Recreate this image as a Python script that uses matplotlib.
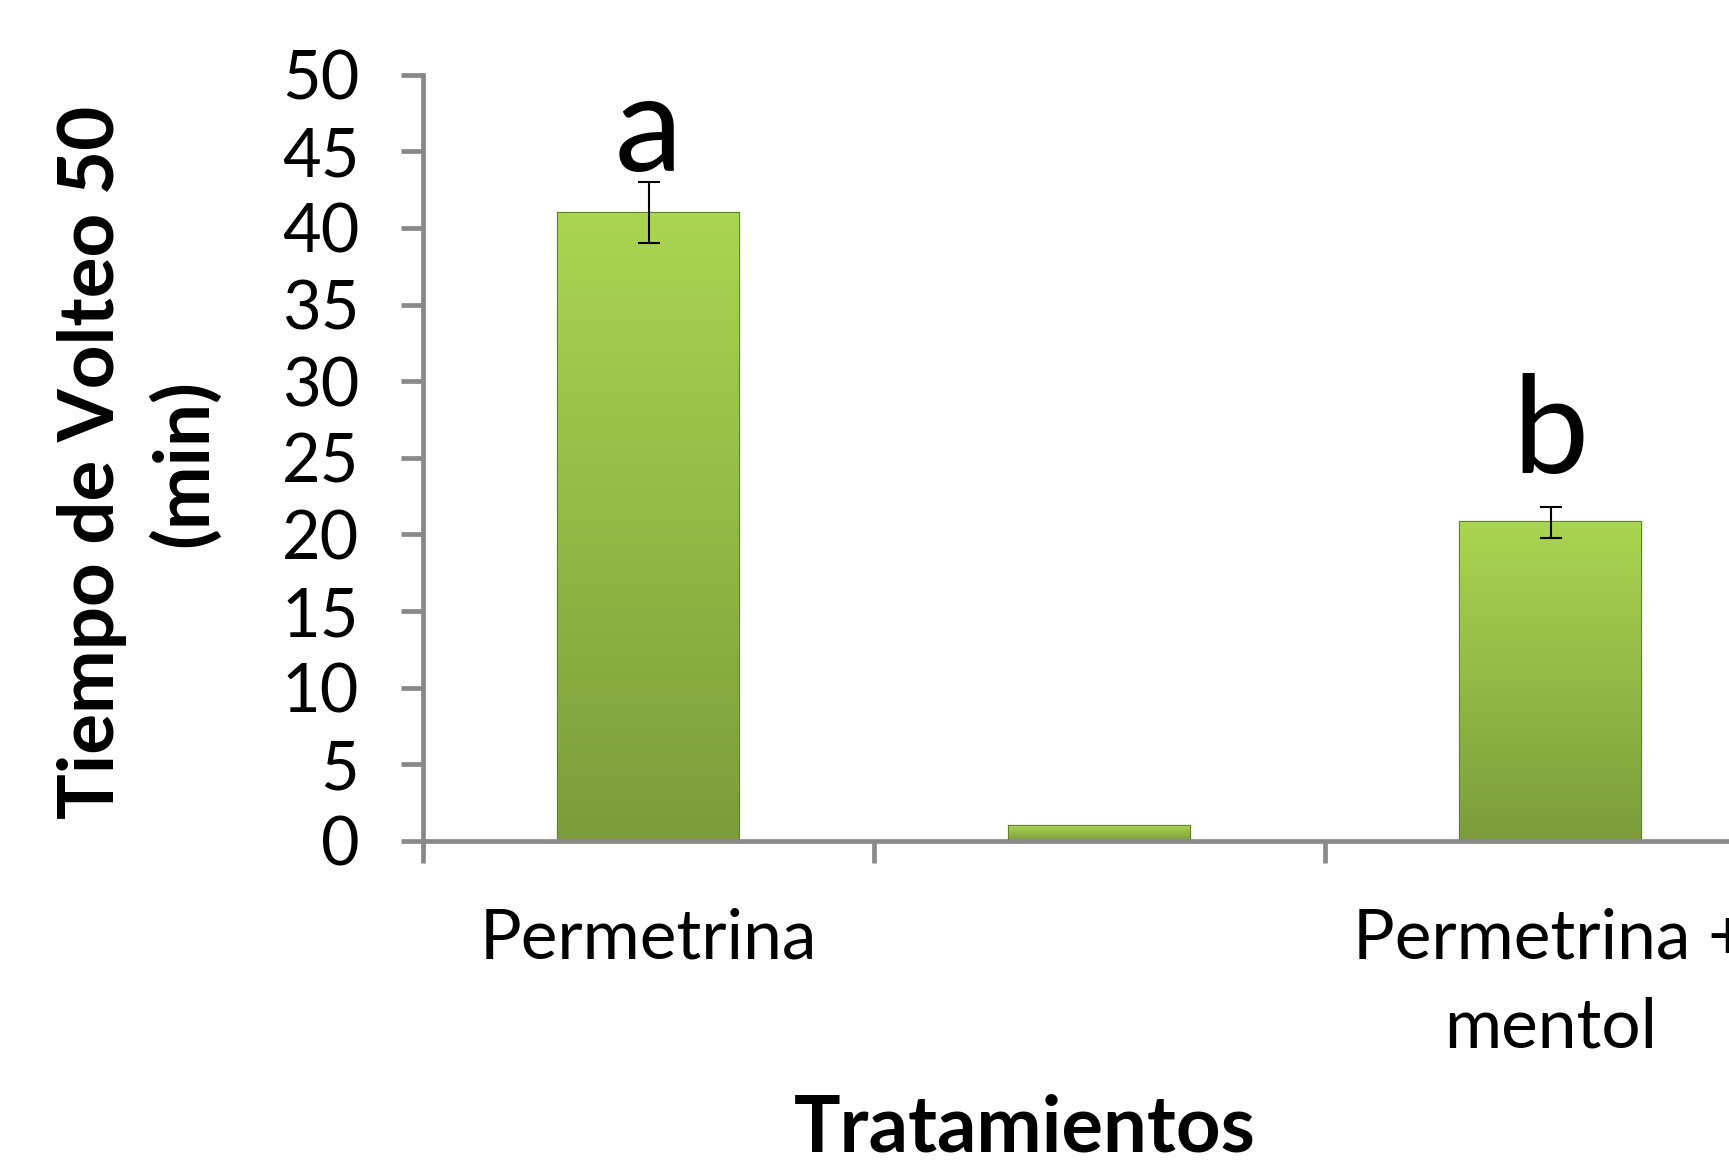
import numpy as np
import matplotlib
matplotlib.use("Agg")
import matplotlib.pyplot as plt

plt.rcParams['font.family'] = ['Lato', 'DejaVu Sans']

# datos
tratamientos = ['Permetrina', '', 'Permetrina +\nmentol']
tiempo = [41.0, 1.0, 20.8]
error = [2.0, 0.0, 1.0]
letras = ['a', '', 'b']
letra_y = [43.7, None, 24.0]

fig = plt.figure(figsize=(17.29, 11.68), dpi=100)
ax = fig.add_axes([0.2447, 0.280, 0.7825, 0.656])

x = np.arange(len(tratamientos))
bars = ax.bar(x, tiempo, width=0.4, color='#94bb45', edgecolor='#62802a', linewidth=1.6, zorder=2)

# degradado verde en cada barra
grad = np.linspace(0, 1, 256).reshape(-1, 1)
cmap = matplotlib.colors.LinearSegmentedColormap.from_list('verde', ['#7c9c3b', '#aad552'])
for b in bars:
    x0, w, h = b.get_x(), b.get_width(), b.get_height()
    im = ax.imshow(grad, extent=[x0, x0 + w, 0, h], origin='lower', aspect='auto',
                   cmap=cmap, zorder=2.5)
    im.set_clip_path(b)

for i in range(len(x)):
    if error[i] > 0:
        ax.errorbar(x[i], tiempo[i], yerr=error[i], fmt='none', ecolor='black',
                    elinewidth=1.5, capsize=8, capthick=1.5, zorder=3)
    if letras[i]:
        ax.text(x[i], letra_y[i], letras[i], ha='center', va='baseline', fontsize=98, zorder=4)

ax.set_xlim(-0.5, 2.5)
ax.set_ylim(0, 50)
ax.set_yticks(np.arange(0, 51, 5))
ax.tick_params(axis='y', labelsize=48, length=16, width=3.4, color='#898989', pad=30)

ax.set_xticks(x)
ax.set_xticklabels(tratamientos, fontsize=50, linespacing=1.5, va='top')
ax.set_xticks([-0.5, 0.5, 1.5], minor=True)
ax.tick_params(axis='x', which='major', length=0, pad=48)
ax.tick_params(axis='x', which='minor', length=16, width=3.4, color='#898989')

for s in ['top', 'right']:
    ax.spines[s].set_visible(False)
for s in ['left', 'bottom']:
    ax.spines[s].set_color('#898989')
    ax.spines[s].set_linewidth(3.4)

fig.text(0.08, 0.604, 'Tiempo de Volteo 50\n(min)', rotation=90, ha='center', va='center',
         fontsize=55, fontweight='bold', linespacing=1.35, multialignment='center')
fig.text(0.593, 0.033, 'Tratamientos', ha='center', va='center', fontsize=56, fontweight='bold')

fig.savefig('out.png', dpi=100)
